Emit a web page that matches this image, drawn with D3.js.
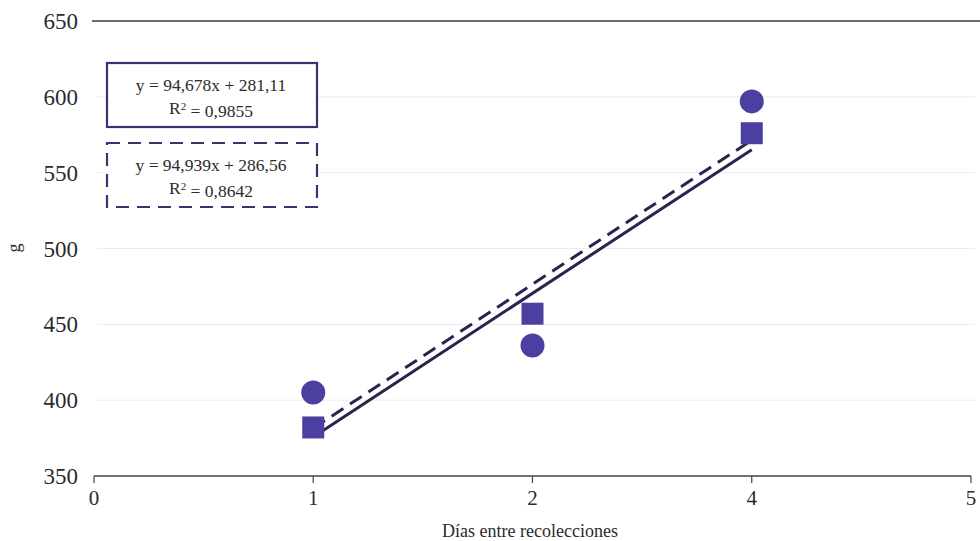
<!DOCTYPE html>
<html>
<head>
<meta charset="utf-8">
<script src="https://cdn.jsdelivr.net/npm/d3@7"></script>
<style>
body { margin: 0; background: #fff; }
svg text { font-family: "Liberation Serif", "Times New Roman", "DejaVu Serif", serif; fill: #2b2b2b; }
</style>
</head>
<body>
<script>
// categories on the x axis (equally spaced)
var xLabels = ["0", "1", "2", "4", "5"];
var yTicks = [350, 400, 450, 500, 550, 600, 650];

// measured points, x = category label
var circleX = ["1", "2", "4"];
var circleY = [405, 436, 597];
var squareX = ["1", "2", "4"];
var squareY = [382, 457, 576];

// trend line equations (x = position index 1..3)
var solidFit = { slope: 94.678, intercept: 281.11, r2: "0,9855", eq: "y = 94,678x + 281,11" };
var dashFit = { slope: 94.939, intercept: 286.56, r2: "0,8642", eq: "y = 94,939x + 286,56" };

var width = 980, height = 541;
var markColor = "#4b3fa0", lineColor = "#29244f";
var serif = "'Liberation Serif', 'Times New Roman', serif";

var svg = d3.select("body").append("svg")
  .attr("width", width).attr("height", height)
  .attr("font-family", serif)
  .style("background", "white");

var xIdx = d3.scaleLinear().domain([0, xLabels.length - 1]).range([94, 971]);
function xPos(label) { return xIdx(xLabels.indexOf(label)); }
var y = d3.scaleLinear().domain([350, 650]).range([476, 21]);

// light gridlines
svg.append("g").selectAll("line")
  .data(yTicks.filter(function(d){ return d > 350 && d < 650; }))
  .enter().append("line")
  .attr("x1", 97).attr("x2", 975)
  .attr("y1", function(d){ return y(d); }).attr("y2", function(d){ return y(d); })
  .attr("stroke", "#ececec").attr("stroke-width", 1);

// top line at 650
svg.append("line")
  .attr("x1", 92).attr("x2", 980)
  .attr("y1", y(650)).attr("y2", y(650))
  .attr("stroke", "#3a3f3a").attr("stroke-width", 1.5);

// y tick labels
svg.append("g").selectAll("text")
  .data(yTicks).enter().append("text")
  .attr("x", 78).attr("y", function(d){ return y(d); })
  .attr("dy", "0.35em").attr("text-anchor", "end")
  .attr("font-family", serif)
  .style("font-size", "23px")
  .text(function(d){ return d; });

// x axis
var xAxis = svg.append("g");
xAxis.append("line")
  .attr("x1", xIdx(0)).attr("x2", xIdx(xLabels.length - 1))
  .attr("y1", y(350)).attr("y2", y(350))
  .attr("stroke", "#3d4a35").attr("stroke-width", 1.5);
xAxis.selectAll("line.tick").data(xLabels).enter().append("line")
  .attr("class", "tick")
  .attr("x1", function(d){ return xPos(d); }).attr("x2", function(d){ return xPos(d); })
  .attr("y1", y(350)).attr("y2", y(350) + 7)
  .attr("stroke", "#3d4a35").attr("stroke-width", 1.2);
xAxis.selectAll("text").data(xLabels).enter().append("text")
  .attr("x", function(d){ return xPos(d); }).attr("y", 505)
  .attr("text-anchor", "middle")
  .attr("font-family", serif)
  .style("font-size", "21px")
  .text(function(d){ return d; });

// axis titles
svg.append("text")
  .attr("x", 530).attr("y", 537).attr("text-anchor", "middle")
  .attr("font-family", serif)
  .style("font-size", "18px")
  .text("Días entre recolecciones");
svg.append("text")
  .attr("transform", "translate(20,248) rotate(-90)")
  .attr("text-anchor", "middle")
  .attr("font-family", serif)
  .style("font-size", "18px")
  .text("g");

// trend lines
function fitLine(fit) {
  return [1, 3].map(function(i){ return [xIdx(i), y(fit.slope * i + fit.intercept)]; });
}
var liner = d3.line();
svg.append("path").attr("d", liner(fitLine(dashFit)))
  .attr("fill", "none").attr("stroke", lineColor).attr("stroke-width", 3)
  .attr("stroke-dasharray", "14,8");
svg.append("path").attr("d", liner(fitLine(solidFit)))
  .attr("fill", "none").attr("stroke", lineColor).attr("stroke-width", 3);

// markers
svg.append("g").selectAll("circle")
  .data(circleX).enter().append("circle")
  .attr("cx", function(d){ return xPos(d); })
  .attr("cy", function(d, i){ return y(circleY[i]); })
  .attr("r", 12).attr("fill", markColor);
svg.append("g").selectAll("rect")
  .data(squareX).enter().append("rect")
  .attr("x", function(d){ return xPos(d) - 11; })
  .attr("y", function(d, i){ return y(squareY[i]) - 11; })
  .attr("width", 22).attr("height", 22).attr("fill", markColor);

// equation boxes
function eqBox(fit, top, dashed) {
  var g = svg.append("g");
  g.append("rect").attr("x", 107).attr("y", top).attr("width", 210).attr("height", 64)
    .attr("fill", "white").attr("stroke", "#3a3370").attr("stroke-width", 2.2)
    .attr("stroke-dasharray", dashed ? "13,8" : null);
  g.append("text").attr("x", 211).attr("y", top + 28).attr("text-anchor", "middle")
    .attr("font-family", serif)
    .style("font-size", "17.5px").text(fit.eq);
  var t = g.append("text").attr("x", 211).attr("y", top + 51).attr("text-anchor", "middle")
    .attr("font-family", serif)
    .style("font-size", "17.5px");
  t.append("tspan").text("R");
  t.append("tspan").attr("dy", "-0.4em").style("font-size", "11px").text("2");
  t.append("tspan").attr("dy", "0.4em").text(" = " + fit.r2);
}
eqBox(solidFit, 63, false);
eqBox(dashFit, 143, true);
</script>
</body>
</html>
